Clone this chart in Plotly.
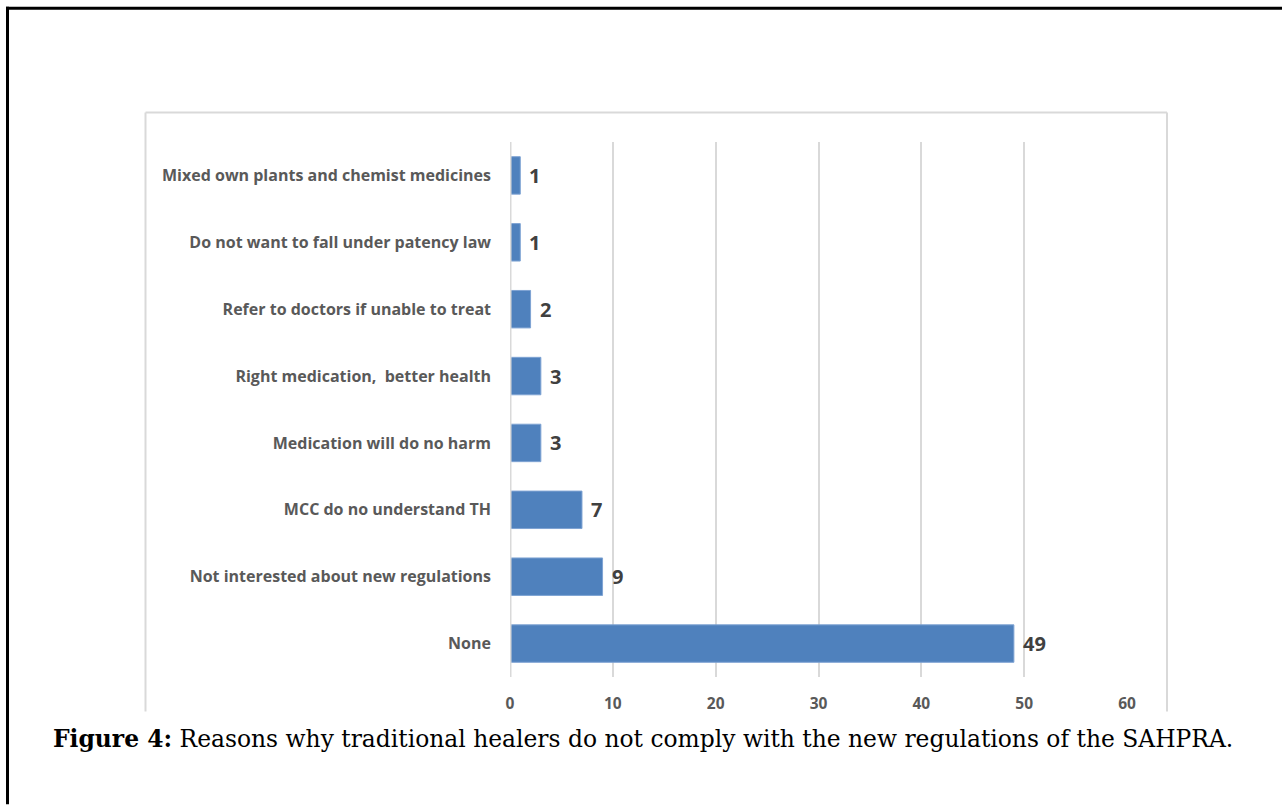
import plotly.graph_objects as go

categories = [
    "None",
    "Not interested about new regulations",
    "MCC do no understand TH",
    "Medication will do no harm",
    "Right medication,  better health",
    "Refer to doctors if unable to treat",
    "Do not want to fall under patency law",
    "Mixed own plants and chemist medicines",
]
values = [49, 9, 7, 3, 3, 2, 1, 1]
x_ticks = [0, 10, 20, 30, 40, 50, 60]
caption_bold = "Figure 4:"
caption_rest = " Reasons why traditional healers do not comply with the new regulations of the SAHPRA."

W, H = 1282, 805
L, R, T, B = 510, 155, 141.5, 127.5

fig = go.Figure()
fig.add_trace(go.Bar(
    y=categories, x=values, orientation="h",
    marker=dict(color="#4F81BD", line=dict(color="#7EA3D3", width=1)),
    width=0.56,
    hoverinfo="skip",
))

for c, v in zip(categories, values):
    fig.add_annotation(
        x=v, y=c, xref="x", yref="y", text=str(v), showarrow=False,
        xanchor="left", xshift=7,
        font=dict(family="Open Sans", size=20, color="#404040", weight="bold"),
    )

fig.update_layout(
    width=W, height=H,
    margin=dict(l=L, r=R, t=T, b=B, pad=0),
    paper_bgcolor="white", plot_bgcolor="white",
    showlegend=False,
    xaxis=dict(
        range=[0, 60], tickvals=x_ticks, showgrid=True, gridcolor="#D9D9D9", gridwidth=2,
        zeroline=False, showline=False, ticks="",
        tickfont=dict(family="Open Sans", size=15.5, color="#595959", weight="bold"),
        ticklabelstandoff=15,
    ),
    yaxis=dict(
        range=[-0.5, 7.5], showgrid=False, zeroline=False, showline=False, ticks="",
        tickfont=dict(family="Open Sans", size=16, color="#595959", weight="bold"),
        ticklabelstandoff=18,
    ),
)

# zero line as gridline on the left
fig.add_shape(type="line", xref="x", yref="paper", x0=0, x1=0, y0=0, y1=1,
              line=dict(color="#D9D9D9", width=3))

frame = "#D9D9D9"
for x0, y0, x1, y1 in [(145.5, 112, 1167, 112), (145.5, 112, 145.5, 712), (1167, 112, 1167, 712)]:
    fig.add_shape(type="line", xref="paper", yref="paper",
                  x0=(x0 - L) / (W - L - R), x1=(x1 - L) / (W - L - R),
                  y0=(H - B - y0) / (H - T - B), y1=(H - B - y1) / (H - T - B),
                  line=dict(color=frame, width=2))

# outer black border (top and left)
for x0, y0, x1, y1 in [(6, 7.5, W, 7.5), (7.5, 6, 7.5, H)]:
    fig.add_shape(type="line", xref="paper", yref="paper",
                  x0=(x0 - L) / (W - L - R), x1=(x1 - L) / (W - L - R),
                  y0=(H - B - y0) / (H - T - B), y1=(H - B - y1) / (H - T - B),
                  line=dict(color="black", width=3))

fig.add_annotation(
    xref="paper", yref="paper",
    x=(643 - L) / (W - L - R), y=(H - B - 740) / (H - T - B),
    text=f"<b>{caption_bold}</b>{caption_rest}", showarrow=False,
    xanchor="center", yanchor="middle",
    font=dict(family="DejaVu Serif", size=23.4, color="black"),
)

fig.write_html("out.html")
